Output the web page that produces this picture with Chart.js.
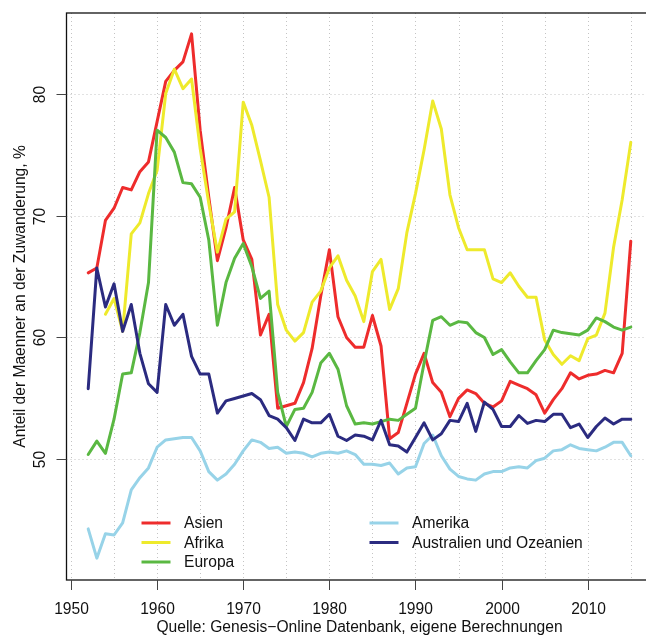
<!DOCTYPE html>
<html>
<head>
<meta charset="utf-8">
<script src="https://cdn.jsdelivr.net/npm/chart.js@4/dist/chart.umd.min.js"></script>
<style>
  html, body { margin: 0; padding: 0; background: #ffffff; overflow: hidden; }
  #wrap { width: 646px; height: 637px; overflow: hidden; }
  canvas { display: block; }
</style>
</head>
<body>
<div id="wrap"><canvas id="chart" width="660" height="637"></canvas></div>
<script>
// Years of observation
const years = [1952, 1953, 1954, 1955, 1956, 1957, 1958, 1959, 1960, 1961,
  1962, 1963, 1964, 1965, 1966, 1967, 1968, 1969, 1970, 1971,
  1972, 1973, 1974, 1975, 1976, 1977, 1978, 1979, 1980, 1981,
  1982, 1983, 1984, 1985, 1986, 1987, 1988, 1989, 1990, 1991,
  1992, 1993, 1994, 1995, 1996, 1997, 1998, 1999, 2000, 2001,
  2002, 2003, 2004, 2005, 2006, 2007, 2008, 2009, 2010, 2011,
  2012, 2013, 2014, 2015];

// Share of men among immigrants, % (by region of origin)
const asien = [65.3, 65.7, 69.6, 70.6, 72.3, 72.1, 73.6, 74.4, 77.7, 81.0,
  81.9, 82.6, 84.9, 77.0, 71.5, 66.3, 69.0, 72.3, 68.0, 66.4,
  60.2, 61.9, 54.2, 54.4, 54.6, 56.3, 59.1, 63.4, 67.2, 61.7,
  60.0, 59.2, 59.2, 61.8, 59.3, 51.7, 52.2, 54.6, 57.0, 58.7,
  56.3, 55.5, 53.5, 55.0, 55.7, 55.4, 54.6, 54.3, 54.8, 56.4,
  56.1, 55.8, 55.3, 53.8, 54.9, 55.8, 57.1, 56.6, 56.9, 57.0,
  57.3, 57.1, 58.7, 67.9];

const afrika = [null, null, 61.9, 63.2, 60.5, 68.5, 69.4, 71.8, 73.7, 80.0,
  82.0, 80.4, 81.2, 75.5, 71.0, 67.0, 69.7, 70.3, 79.3, 77.4,
  74.5, 71.5, 62.7, 60.6, 59.7, 60.4, 62.9, 63.8, 65.7, 66.7,
  64.7, 63.4, 61.3, 65.4, 66.4, 62.3, 64.0, 68.6, 71.8, 75.4,
  79.4, 77.1, 71.7, 69.0, 67.2, 67.2, 67.2, 64.8, 64.5, 65.3,
  64.2, 63.3, 63.3, 59.8, 58.6, 57.8, 58.5, 58.1, 59.9, 60.2,
  62.0, 67.4, 71.3, 76.0];

const europa = [50.4, 51.5, 50.5, 53.3, 57.0, 57.1, 60.4, 64.5, 77.0, 76.4,
  75.2, 72.7, 72.6, 71.5, 68.0, 61.0, 64.5, 66.5, 67.7, 65.8,
  63.2, 63.8, 55.5, 52.7, 54.1, 54.2, 55.5, 57.9, 58.7, 57.4,
  54.4, 52.9, 53.0, 52.9, 53.1, 53.3, 53.2, 53.7, 54.2, 57.9,
  61.4, 61.7, 61.0, 61.3, 61.2, 60.4, 60.0, 58.6, 59.0, 58.0,
  57.1, 57.1, 58.1, 59.0, 60.6, 60.4, 60.3, 60.2, 60.6, 61.6,
  61.3, 60.85, 60.6, 60.85];

const amerika = [44.3, 41.9, 43.9, 43.8, 44.8, 47.5, 48.5, 49.3, 51.0, 51.6,
  51.7, 51.8, 51.8, 50.7, 49.0, 48.3, 48.8, 49.6, 50.7, 51.6,
  51.4, 50.9, 51.0, 50.5, 50.6, 50.5, 50.2, 50.5, 50.6, 50.5,
  50.7, 50.4, 49.6, 49.6, 49.5, 49.7, 48.8, 49.3, 49.4, 51.3,
  52.0, 50.3, 49.2, 48.6, 48.4, 48.3, 48.8, 49.0, 49.0, 49.3,
  49.4, 49.3, 49.9, 50.1, 50.7, 50.8, 51.2, 50.9, 50.8, 50.7,
  51.0, 51.4, 51.4, 50.3];

const australien = [55.8, 65.7, 62.5, 64.4, 60.5, 62.7, 58.7, 56.2, 55.5, 62.7,
  61.0, 61.9, 58.45, 57.0, 57.0, 53.8, 54.8, 55.0, 55.2, 55.4,
  54.9, 53.6, 53.3, 52.6, 51.55, 53.3, 53.0, 53.0, 53.7, 51.9,
  51.55, 52.0, 51.9, 51.6, 53.2, 51.2, 51.1, 50.6, 51.8, 53.0,
  51.6, 52.1, 53.2, 53.1, 54.6, 52.3, 54.7, 54.1, 52.7, 52.7,
  53.6, 52.95, 53.2, 53.1, 53.7, 53.7, 52.6, 52.9, 51.8, 52.7,
  53.4, 52.9, 53.3, 53.3];

// Axis ticks and labels
const xTicks = [1950, 1960, 1970, 1980, 1990, 2000, 2010];
const xGrid = [1950, 1955, 1960, 1965, 1970, 1975, 1980, 1985, 1990, 1995, 2000, 2005, 2010, 2015];
const yTicks = [50, 60, 70, 80];

const seriesNames = ['Asien', 'Afrika', 'Europa', 'Amerika', 'Australien und Ozeanien'];
const seriesColors = ['#ee2c2c', '#eeea2c', '#5ab842', '#97d3e8', '#2b2b80'];
const seriesValues = [asien, afrika, europa, amerika, australien];

const yTitle = 'Anteil der Maenner an der Zuwanderung, %';
const footer = 'Quelle: Genesis\u2212Online Datenbank, eigene Berechnungen';

const FONT = '15.6px "Liberation Sans", Arial, Helvetica, sans-serif';

const datasets = seriesValues.map((vals, i) => ({
  label: seriesNames[i],
  data: years.map((y, k) => ({ x: y, y: vals[k] })),
  borderColor: seriesColors[i],
  backgroundColor: seriesColors[i],
  borderWidth: 3,
  pointRadius: 0,
  tension: 0,
  spanGaps: false,
  borderCapStyle: 'round',
  borderJoinStyle: 'round',
  order: seriesValues.length - 1 - i
}));

// R-style frame: dotted grid, box, outside ticks, rotated y labels, legend
const basePlot = {
  id: 'basePlot',
  beforeDatasetsDraw(chart) {
    const { ctx, chartArea: a, scales: { x, y } } = chart;
    ctx.save();
    ctx.strokeStyle = '#c4c4c4';
    ctx.lineWidth = 1;
    ctx.setLineDash([1, 3]);
    xGrid.forEach(v => {
      const px = Math.round(x.getPixelForValue(v)) + 0.5;
      ctx.beginPath(); ctx.moveTo(px, a.top); ctx.lineTo(px, a.bottom); ctx.stroke();
    });
    yTicks.forEach(v => {
      const py = Math.round(y.getPixelForValue(v)) + 0.5;
      ctx.beginPath(); ctx.moveTo(a.left, py); ctx.lineTo(a.right, py); ctx.stroke();
    });
    ctx.restore();
  },
  afterDatasetsDraw(chart) {
    const { ctx, chartArea: a, scales: { x, y } } = chart;
    ctx.save();
    // box
    ctx.strokeStyle = '#111111';
    ctx.lineWidth = 1.3;
    ctx.strokeRect(a.left, a.top, a.right - a.left, a.bottom - a.top);

    // x ticks and labels
    ctx.strokeStyle = '#444444';
    ctx.lineWidth = 1;
    ctx.fillStyle = '#111111';
    ctx.font = FONT;
    ctx.textAlign = 'center';
    ctx.textBaseline = 'middle';
    xTicks.forEach(v => {
      const px = Math.round(x.getPixelForValue(v)) + 0.5;
      ctx.beginPath(); ctx.moveTo(px, a.bottom); ctx.lineTo(px, a.bottom + 10); ctx.stroke();
      ctx.fillText(String(v), px, a.bottom + 30);
    });

    // y ticks and rotated labels
    yTicks.forEach(v => {
      const py = Math.round(y.getPixelForValue(v)) + 0.5;
      ctx.beginPath(); ctx.moveTo(a.left - 10, py); ctx.lineTo(a.left, py); ctx.stroke();
      ctx.save();
      ctx.translate(a.left - 26, py);
      ctx.rotate(-Math.PI / 2);
      ctx.fillText(String(v), 0, 0);
      ctx.restore();
    });

    // y axis title
    ctx.save();
    ctx.translate(a.left - 46, (a.top + a.bottom) / 2);
    ctx.rotate(-Math.PI / 2);
    ctx.fillText(yTitle, 0, 0);
    ctx.restore();

    // source line
    ctx.fillText(footer, (a.left + a.right) / 2, a.bottom + 48);

    // legend (two columns)
    const cols = [{ x: 141.5, items: [0, 1, 2] }, { x: 369.5, items: [3, 4] }];
    ctx.textAlign = 'left';
    cols.forEach(col => {
      col.items.forEach((idx, r) => {
        const ly = 523 + r * 19.5;
        ctx.strokeStyle = seriesColors[idx];
        ctx.lineWidth = 3;
        ctx.lineCap = 'butt';
        ctx.beginPath(); ctx.moveTo(col.x, ly); ctx.lineTo(col.x + 29, ly); ctx.stroke();
        ctx.fillStyle = '#111111';
        ctx.fillText(seriesNames[idx], col.x + 42.5, ly + 1);
      });
    });
    ctx.restore();
  }
};

new Chart(document.getElementById('chart'), {
  type: 'line',
  data: { datasets },
  options: {
    responsive: false,
    animation: false,
    devicePixelRatio: 1,
    layout: { padding: { left: 66.5, top: 13, right: 7.5, bottom: 57 } },
    plugins: { legend: { display: false }, tooltip: { enabled: false } },
    scales: {
      x: { type: 'linear', min: 1949.48, max: 2017.52, display: false },
      y: { type: 'linear', min: 40.11, max: 86.61, display: false }
    }
  },
  plugins: [basePlot]
});
</script>
</body>
</html>
